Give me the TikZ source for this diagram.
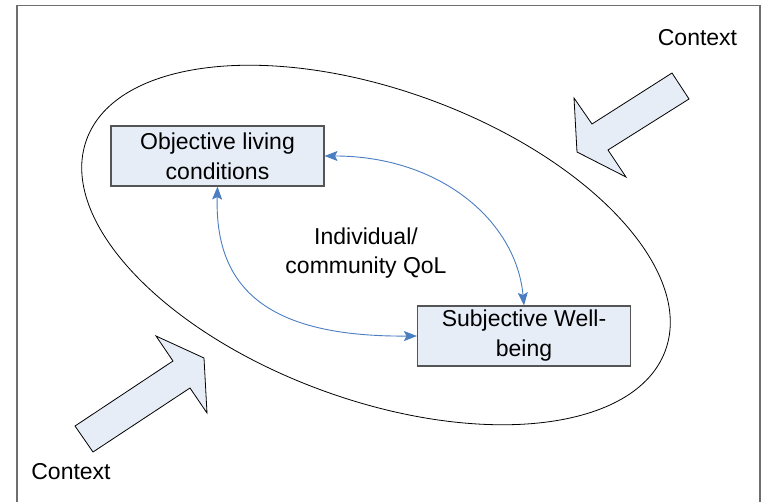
\documentclass[tikz,border=0pt]{standalone}
\usepackage{fontspec}
\setmainfont{Liberation Sans}
\usetikzlibrary{arrows.meta}
\definecolor{boxfill}{RGB}{231,237,247}
\definecolor{linkblue}{RGB}{74,126,193}
\definecolor{framegray}{RGB}{110,110,110}
\definecolor{boxedge}{RGB}{85,85,85}
\tikzset{
  qolbox/.style={draw=boxedge, line width=1.1pt, fill=boxfill, minimum width=213pt, minimum height=60pt, inner sep=0pt, align=center, font=\fontsize{23}{30}\selectfont},
  qollabel/.style={align=center, inner sep=0pt, font=\fontsize{23}{29.5}\selectfont},
  link/.style={draw=linkblue, line width=0.9pt, {Stealth[length=13pt,width=10pt,inset=2.5pt]}-{Stealth[length=13pt,width=10pt,inset=2.5pt]}},
  blockarrow/.style={draw=black, line width=0.8pt, fill=boxfill, line join=miter}
}
\begin{document}
\begin{tikzpicture}[x=1pt,y=-1pt]
\useasboundingbox (0,0) rectangle (765,502);
\clip (0,0) rectangle (765,502);
\fill[white] (0,0) rectangle (765,502);
% frame
\draw[framegray, line width=1.6pt] (17,5.5) rectangle (760,530);
% ellipse
\draw[black, line width=0.8pt, shift={(376,245)}, rotate=-20] (0,0) ellipse [x radius=308pt, y radius=155pt];
% boxes
\node[qolbox] (obj) at (217.5,156) {Objective living\\conditions};
\node[qolbox] (subj) at (524,336) {Subjective Well-\\being};
\node[qollabel] (qol) at (366,253) {Individual/\\community QoL};
% connectors
\draw[link] (obj.east) .. controls +(115,0) and +(-8,-85) .. (subj.north);
\draw[link] (obj.south) .. controls +(-3,104) and +(-147,1) .. (subj.west);
% context arrows
\draw[blockarrow] (672,73) -- (592,124) -- (574,98) -- (577,152) -- (626,177) -- (608,150) -- (689,99) -- cycle;
\draw[blockarrow] (75,426) -- (173,361) -- (156,336) -- (204,358) -- (207,413) -- (190,388) -- (93,452) -- cycle;
% context labels
\node[qollabel] (ctx1) at (697.5,38) {Context};
\node[qollabel] (ctx2) at (71,472) {Context};
\end{tikzpicture}
\end{document}
